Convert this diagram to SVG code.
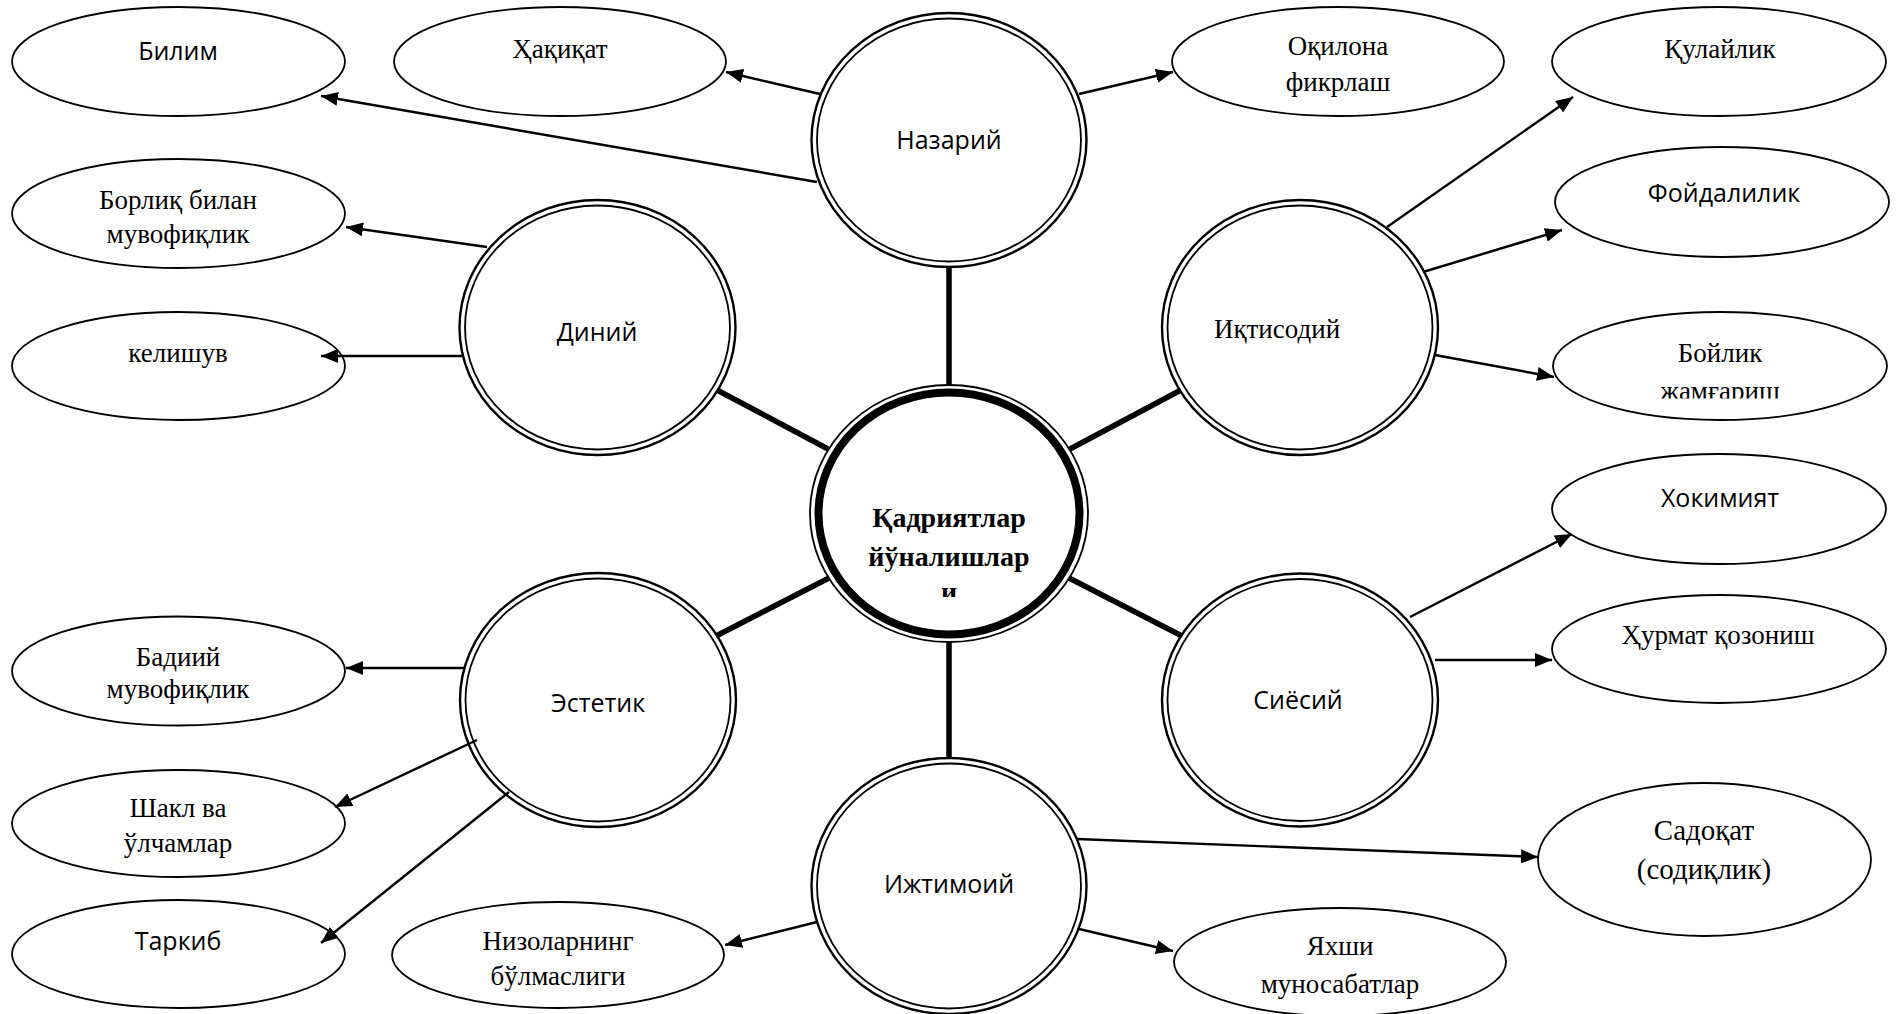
<svg xmlns="http://www.w3.org/2000/svg" width="1904" height="1014" viewBox="0 0 1904 1014">
  <style>
    .leaf { fill: #fff; stroke: #000; stroke-width: 1.8; }
    .ring-o { fill: #fff; stroke: #000; stroke-width: 2.4; }
    .ring-i { fill: none; stroke: #000; stroke-width: 1.8; }
    .hub-thin { fill: #fff; stroke: #000; stroke-width: 1.8; }
    .hub-thick { fill: none; stroke: #000; stroke-width: 8; }
    .sans { font-family: "Open Sans", "Noto Sans", sans-serif; font-size: 25px; fill: #000; text-anchor: middle; }
    .serif { font-family: "Liberation Serif", "Times New Roman", serif; font-size: 27px; fill: #000; text-anchor: middle; }
    .big { font-size: 29px; }
    .bold { font-family: "Liberation Serif", "Times New Roman", serif; font-size: 28px; font-weight: bold; fill: #000; text-anchor: middle; }
    .link { stroke: #000; stroke-width: 5.5; }
    .arrow { stroke: #000; stroke-width: 2.4; fill: none; marker-end: url(#head); }
  </style>
  <defs>
    <marker id="head" markerUnits="userSpaceOnUse" markerWidth="18" markerHeight="14" refX="17" refY="7" orient="auto">
      <path d="M0,0 L17,7 L0,14 Z" fill="#000"/>
    </marker>
    <clipPath id="clipWealth"><rect x="1550" y="300" width="340" height="98.5"/></clipPath>
    <clipPath id="clipHub"><rect x="800" y="380" width="300" height="217"/></clipPath>
  </defs>
  <rect width="1904" height="1014" fill="#fff"/>

  <!-- central node -->
  <g id="hub">
    <ellipse cx="949" cy="513.5" rx="139" ry="128.5" class="hub-thin"/>
    <ellipse cx="949" cy="513.5" rx="130.5" ry="121" class="hub-thick"/>
    <g clip-path="url(#clipHub)">
      <text x="949" y="527" class="bold">Қадриятлар</text>
      <text x="949" y="566" class="bold">йўналишлар</text>
      <text x="949" y="601" class="bold">и</text>
    </g>
  </g>

  <!-- category nodes -->
  <g id="nazariy">
    <ellipse cx="949" cy="140" rx="137.5" ry="127" class="ring-o"/>
    <ellipse cx="949" cy="140" rx="132" ry="121.5" class="ring-i"/>
    <text x="949" y="149" class="sans">Назарий</text>
  </g>
  <g id="diniy">
    <ellipse cx="597.5" cy="327.5" rx="138" ry="127.5" class="ring-o"/>
    <ellipse cx="597.5" cy="327.5" rx="132.5" ry="122" class="ring-i"/>
    <text x="597" y="341" class="sans">Диний</text>
  </g>
  <g id="iqtisodiy">
    <ellipse cx="1300" cy="327.5" rx="138" ry="127.5" class="ring-o"/>
    <ellipse cx="1300" cy="327.5" rx="132.5" ry="122" class="ring-i"/>
    <text x="1277" y="338" class="serif" font-size="28">Иқтисодий</text>
  </g>
  <g id="estetik">
    <ellipse cx="598" cy="700" rx="138" ry="127" class="ring-o"/>
    <ellipse cx="598" cy="700" rx="132.5" ry="121.5" class="ring-i"/>
    <text x="598" y="712" class="sans">Эстетик</text>
  </g>
  <g id="siyosiy">
    <ellipse cx="1300" cy="700" rx="138" ry="126.5" class="ring-o"/>
    <ellipse cx="1300" cy="700" rx="132.5" ry="121" class="ring-i"/>
    <text x="1298" y="709" class="sans">Сиёсий</text>
  </g>
  <g id="ijtimoiy">
    <ellipse cx="949" cy="886" rx="137.5" ry="128" class="ring-o"/>
    <ellipse cx="949" cy="886" rx="132" ry="122.5" class="ring-i"/>
    <text x="949" y="893" class="sans">Ижтимоий</text>
  </g>

  <!-- value nodes -->
  <g id="bilim">
    <ellipse cx="178.5" cy="61.5" rx="166.5" ry="54.5" class="leaf"/>
    <text x="178" y="60" class="sans">Билим</text>
  </g>
  <g id="haqiqat">
    <ellipse cx="560" cy="61.5" rx="166" ry="54.5" class="leaf"/>
    <text x="560" y="58" class="serif" font-size="28">Ҳақиқат</text>
  </g>
  <g id="oqilona">
    <ellipse cx="1338" cy="61.5" rx="166" ry="54.5" class="leaf"/>
    <text x="1338" y="55" class="serif" font-size="26">Оқилона</text>
    <text x="1338" y="91" class="serif" font-size="26">фикрлаш</text>
  </g>
  <g id="qulaylik">
    <ellipse cx="1719" cy="61.5" rx="167" ry="54.5" class="leaf"/>
    <text x="1720" y="58" class="serif" font-size="28">Қулайлик</text>
  </g>
  <g id="foydalilik">
    <ellipse cx="1722" cy="202" rx="167" ry="55" class="leaf"/>
    <text x="1724" y="202" class="sans">Фойдалилик</text>
  </g>
  <g id="boylik">
    <ellipse cx="1720" cy="366" rx="167" ry="54" class="leaf"/>
    <text x="1720" y="362" class="serif" font-size="28">Бойлик</text>
    <text x="1720" y="400" class="serif" font-size="28" clip-path="url(#clipWealth)">жамғариш</text>
  </g>
  <g id="hokimiyat">
    <ellipse cx="1719" cy="509" rx="167" ry="55" class="leaf"/>
    <text x="1720" y="507" class="sans">Хокимият</text>
  </g>
  <g id="hurmat">
    <ellipse cx="1719" cy="649" rx="167" ry="54" class="leaf"/>
    <text x="1718" y="644" class="serif" font-size="26">Ҳурмат қозониш</text>
  </g>
  <g id="sadoqat">
    <ellipse cx="1704.5" cy="859.5" rx="166.5" ry="76.5" class="leaf"/>
    <text x="1704" y="840" class="serif big">Садоқат</text>
    <text x="1704" y="879" class="serif big">(содиқлик)</text>
  </g>
  <g id="yaxshi">
    <ellipse cx="1340" cy="962" rx="166" ry="54" class="leaf"/>
    <text x="1340" y="955" class="serif" font-size="26">Яхши</text>
    <text x="1340" y="993" class="serif" font-size="26">муносабатлар</text>
  </g>
  <g id="nizolar">
    <ellipse cx="558" cy="955" rx="166" ry="53" class="leaf"/>
    <text x="558" y="950" class="serif" font-size="26">Низоларнинг</text>
    <text x="558" y="985" class="serif" font-size="26">бўлмаслиги</text>
  </g>
  <g id="tarkib">
    <ellipse cx="178.5" cy="954" rx="166.5" ry="54" class="leaf"/>
    <text x="178" y="950" class="sans">Таркиб</text>
  </g>
  <g id="shakl">
    <ellipse cx="178.5" cy="823.5" rx="166.5" ry="53.5" class="leaf"/>
    <text x="178" y="817" class="serif">Шакл ва</text>
    <text x="178" y="852" class="serif">ўлчамлар</text>
  </g>
  <g id="badiiy">
    <ellipse cx="178.5" cy="671" rx="166.5" ry="54.5" class="leaf"/>
    <text x="178" y="666" class="serif" font-size="26">Бадиий</text>
    <text x="178" y="698" class="serif" font-size="26">мувофиқлик</text>
  </g>
  <g id="kelishuv">
    <ellipse cx="178.5" cy="366" rx="166.5" ry="54" class="leaf"/>
    <text x="178" y="362" class="serif" font-size="28">келишув</text>
  </g>
  <g id="borliq">
    <ellipse cx="178.5" cy="213.5" rx="166.5" ry="54.5" class="leaf"/>
    <text x="178" y="209" class="serif" font-size="26">Борлиқ билан</text>
    <text x="178" y="243" class="serif" font-size="26">мувофиқлик</text>
  </g>

  <!-- connectors: thick spokes to the hub, thin arrows to the values -->
  <g id="connectors">
    <line x1="949" y1="267" x2="949" y2="385" class="link"/>
    <line x1="949" y1="642" x2="949" y2="758" class="link"/>
    <line x1="717" y1="390" x2="828" y2="449" class="link"/>
    <line x1="1070" y1="449" x2="1181" y2="390" class="link"/>
    <line x1="716" y1="636" x2="829" y2="578" class="link"/>
    <line x1="1069" y1="578" x2="1182" y2="636" class="link"/>

    <line x1="817" y1="182" x2="321" y2="96" class="arrow"/>
    <line x1="820" y1="94" x2="726" y2="72" class="arrow"/>
    <line x1="1079" y1="94" x2="1173" y2="72" class="arrow"/>
    <line x1="487" y1="247" x2="346" y2="227" class="arrow"/>
    <line x1="462" y1="356" x2="321" y2="356" class="arrow"/>
    <line x1="1387" y1="227" x2="1573" y2="97" class="arrow"/>
    <line x1="1423" y1="272" x2="1562" y2="230" class="arrow"/>
    <line x1="1435" y1="355" x2="1554" y2="377" class="arrow"/>
    <line x1="1410" y1="617" x2="1572" y2="534" class="arrow"/>
    <line x1="1435" y1="660" x2="1552" y2="660" class="arrow"/>
    <line x1="1077" y1="839" x2="1538" y2="857" class="arrow"/>
    <line x1="1079" y1="929" x2="1173" y2="951" class="arrow"/>
    <line x1="817" y1="922" x2="725" y2="945" class="arrow"/>
    <line x1="464" y1="668" x2="346" y2="668" class="arrow"/>
    <line x1="477" y1="740" x2="335" y2="807" class="arrow"/>
    <line x1="509" y1="792" x2="321" y2="943" class="arrow"/>
  </g>
</svg>
